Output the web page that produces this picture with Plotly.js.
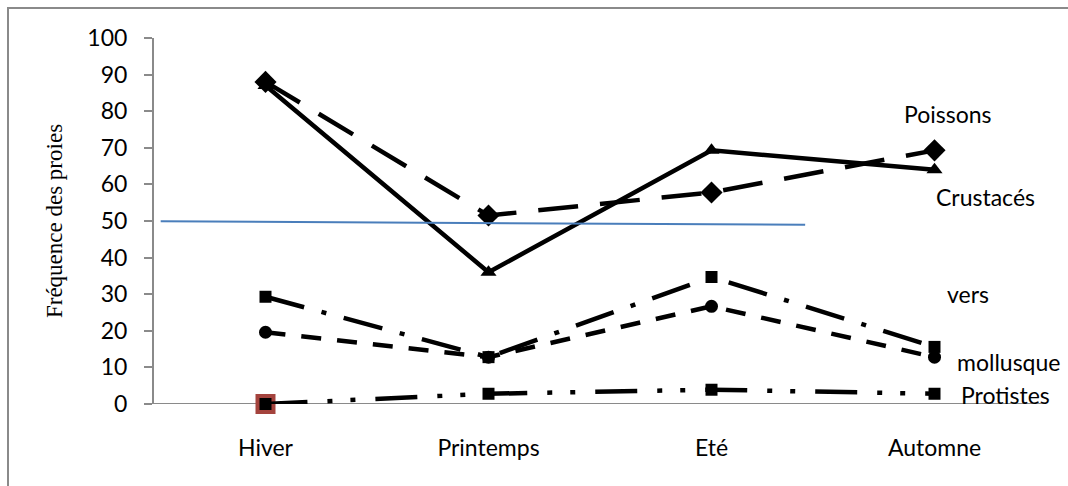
<!DOCTYPE html>
<html>
<head>
<meta charset="utf-8">
<script src="https://cdn.plot.ly/plotly-3.0.1.min.js"></script>
<style>
  html, body { margin: 0; padding: 0; background: #fff; }
  #wrap { position: relative; width: 1068px; height: 486px; overflow: hidden; }
  #frame { position: absolute; left: 7px; top: 7px; right: -10px; bottom: -10px;
           border-left: 2px solid #8a8a8a; border-top: 2px solid #8a8a8a; pointer-events: none; }
  #chart { position: absolute; left: 0; top: 0; width: 1068px; height: 486px; }
</style>
</head>
<body>
<div id="wrap">
  <div id="chart"></div>
  <div id="frame"></div>
</div>
<script>
// Saisons et fréquences des proies (%)
const saisons = ['Hiver', 'Printemps', 'Eté', 'Automne'];
const poissons   = [88, 51.5, 57.8, 69.3];
const crustaces  = [87, 36, 69.3, 64];
const vers       = [29.3, 12.8, 34.7, 15.6];
const mollusques = [19.6, 12.8, 26.7, 12.8];
const protistes  = [0, 2.8, 3.9, 2.8];

const noms = ['Poissons', 'Crustacés', 'vers', 'mollusque', 'Protistes'];
const yTicks = [0, 10, 20, 30, 40, 50, 60, 70, 80, 90, 100];

// Ligne de repère tracée à main levée (en coordonnées de catégorie)
const repereX = [-0.47, 2.42];
const repereY = [49.9, 49.0];

// Position des étiquettes de séries
const etiqX = [3.06, 3.23, 3.15, 3.33, 3.32];
const etiqY = [79.2, 56.5, 30, 11.4, 2.4];

const W = 4.5;
const serie = (y, dash, symbol, size) => ({
  x: saisons, y: y, type: 'scatter', mode: 'lines+markers',
  line: { color: '#000', width: W, dash: dash },
  marker: { color: '#000', symbol: symbol, size: size, opacity: 1 },
  cliponaxis: false, showlegend: false, hoverinfo: 'skip'
});

const traces = [
  // carré brun-rouge sous le premier point des protistes
  { x: [saisons[0]], y: [protistes[0]], type: 'scatter', mode: 'markers',
    marker: { color: '#a4433d', symbol: 'square', size: 20, opacity: 1 },
    cliponaxis: false, showlegend: false, hoverinfo: 'skip' },
  serie(poissons, '40px,22px', 'diamond', 17),
  serie(crustaces, 'solid', 'triangle-up', 14),
  serie(vers, '40px,18px,5px,18px', 'square', 12),
  serie(mollusques, '20px,16px', 'circle', 13),
  serie(protistes, '42px,20px,5px,18px,5px,20px', 'square', 12)
];

const police = 'Lato, "Open Sans", "DejaVu Sans", sans-serif';
const taille = 23;

const layout = {
  width: 1068, height: 486,
  margin: { l: 154, r: 22, t: 38, b: 82 },
  paper_bgcolor: '#fff', plot_bgcolor: '#fff',
  font: { family: police, size: taille, color: '#000' },
  xaxis: {
    type: 'category', range: [-0.5, 3.5],
    showgrid: false, zeroline: false, showline: false,
    ticks: '', ticklabelstandoff: 28,
    tickfont: { family: police, size: taille, color: '#000' }
  },
  yaxis: {
    range: [0, 100], tickvals: yTicks, ticktext: yTicks.map(String),
    showgrid: false, zeroline: false,
    showline: true, linecolor: '#8a8a8a', linewidth: 2,
    ticks: 'outside', ticklen: 8, tickwidth: 2, tickcolor: '#8a8a8a',
    ticklabelstandoff: 12,
    tickfont: { family: police, size: taille, color: '#000' },
    title: { text: 'Fréquence des proies', standoff: 18,
             font: { family: '"Liberation Serif", "DejaVu Serif", serif', size: 23, color: '#000' } }
  },
  shapes: [
    { type: 'line', xref: 'paper', yref: 'y', x0: 0, x1: 1, y0: 0, y1: 0,
      line: { color: '#8a8a8a', width: 2 }, layer: 'below' },
    { type: 'line', xref: 'x', yref: 'y',
      x0: repereX[0], x1: repereX[1], y0: repereY[0], y1: repereY[1],
      line: { color: '#4a7ebb', width: 2 }, layer: 'above' }
  ],
  annotations: noms.map((n, i) => ({
    text: n, x: etiqX[i], y: etiqY[i], xref: 'x', yref: 'y',
    showarrow: false, xanchor: 'center', yanchor: 'middle',
    font: { family: police, size: taille, color: '#000' }
  }))
};

Plotly.newPlot('chart', traces, layout, { staticPlot: true, displayModeBar: false });
</script>
</body>
</html>
